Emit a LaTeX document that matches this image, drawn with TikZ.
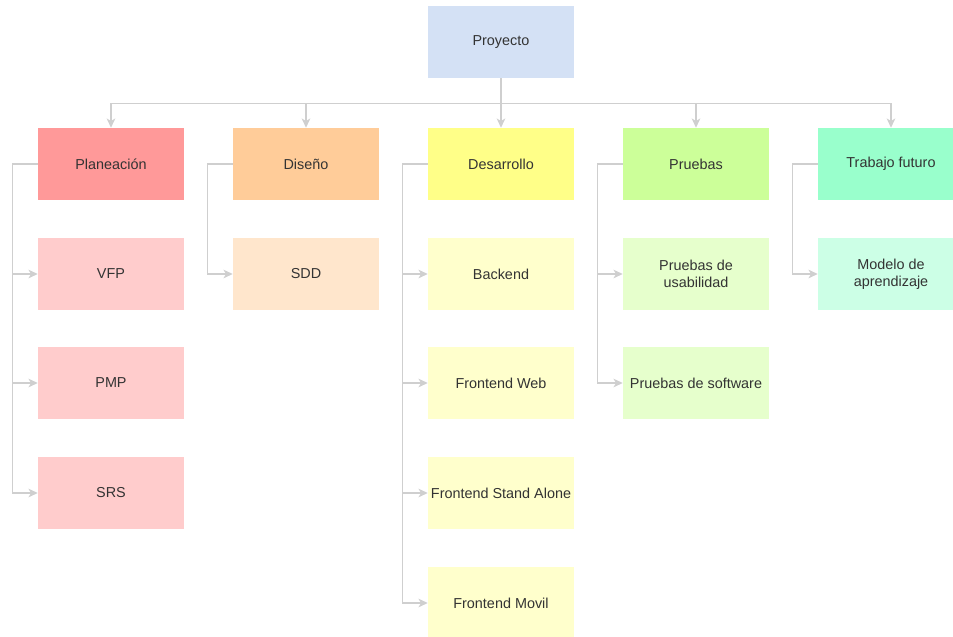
\documentclass[tikz,border=0pt]{standalone}
\usepackage{fontspec}
\setmainfont{Liberation Sans}
\usetikzlibrary{arrows.meta, positioning}

\definecolor{proycol}{HTML}{D4E1F5}
\definecolor{plancol}{HTML}{FF9999}
\definecolor{planlight}{HTML}{FFCCCC}
\definecolor{disecol}{HTML}{FFCC99}
\definecolor{diselight}{HTML}{FFE6CC}
\definecolor{desacol}{HTML}{FFFF88}
\definecolor{desalight}{HTML}{FFFFCC}
\definecolor{prucol}{HTML}{CCFF99}
\definecolor{prulight}{HTML}{E6FFCC}
\definecolor{trabcol}{HTML}{99FFCC}
\definecolor{trablight}{HTML}{CCFFE6}
\definecolor{linegray}{HTML}{CFCFCF}
\definecolor{textgray}{HTML}{333333}

\tikzset{
  box/.style={rectangle, minimum width=109.5pt, minimum height=54pt, inner sep=1pt,
    align=center, font=\fontsize{10.8}{12.6}\selectfont, text=textgray},
  link/.style={draw=linegray, line width=0.9pt,
    -{Stealth[length=7pt,width=6.5pt,inset=2pt,fill=linegray]}},
}

\begin{document}
\begin{tikzpicture}[x=0.75pt,y=-0.75pt]
\useasboundingbox (0,0) rectangle (953,636);
% Root
\node[box,fill=proycol] (proy) at (501,42) {Proyecto};
% Phases
\foreach \name/\x/\txt/\col in {plan/111/Planeación/plancol, dise/306/Diseño/disecol,
    desa/501/Desarrollo/desacol, pru/696/Pruebas/prucol, trab/891/Trabajo futuro/trabcol} {
    \node[box,fill=\col] (\name) at (\x,164) {\txt};
    \draw[link] (proy.south) -- ++(0,25) -| (\name.north);
}
% Planeacion
\foreach \name/\y/\txt in {vfp/274/VFP, pmp/383/PMP, srs/493/SRS} {
    \node[box,fill=planlight] (\name) at (111,\y) {\txt};
    \draw[link] (plan.west) -- ++(-25,0) |- (\name.west);
}
% Diseno
\node[box,fill=diselight] (sdd) at (306,274) {SDD};
\draw[link] (dise.west) -- ++(-25,0) |- (sdd.west);
% Desarrollo
\foreach \name/\y/\txt in {back/274/Backend, web/383/Frontend Web,
    stand/493/Frontend Stand Alone, movil/603/Frontend Movil} {
    \node[box,fill=desalight] (\name) at (501,\y) {\txt};
    \draw[link] (desa.west) -- ++(-25,0) |- (\name.west);
}
% Pruebas
\foreach \name/\y/\txt in {usab/274/Pruebas de\\usabilidad, soft/383/Pruebas de software} {
    \node[box,fill=prulight] (\name) at (696,\y) {\txt};
    \draw[link] (pru.west) -- ++(-25,0) |- (\name.west);
}
% Trabajo futuro
\node[box,fill=trablight] (model) at (891,274) {Modelo de\\aprendizaje};
\draw[link] (trab.west) -- ++(-25,0) |- (model.west);
\end{tikzpicture}
\end{document}
